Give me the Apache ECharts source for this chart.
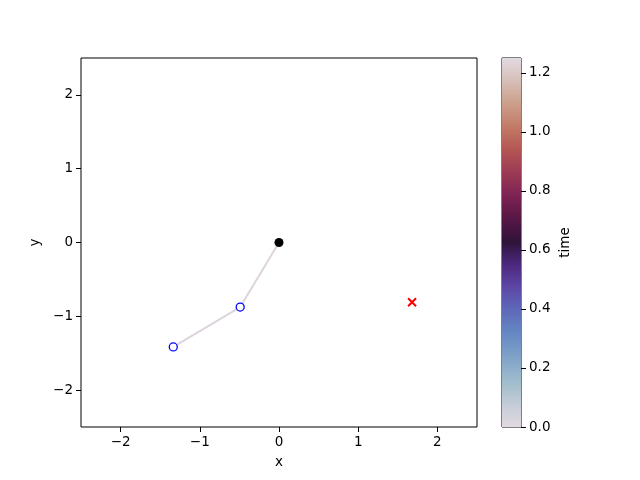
<!DOCTYPE html>
<html><head><meta charset="utf-8">
<script src="https://cdn.jsdelivr.net/npm/echarts@6/dist/echarts.min.js"></script>
<style>html,body{margin:0;padding:0;background:#fff}#c{width:640px;height:480px}</style>
</head><body><div id="c"></div>
<script>
const trajectory = [[0, 0], [-0.49, -0.875], [-1.335, -1.415]];
const startPoint = [[0, 0]];
const visitedPoints = [[-0.49, -0.875], [-1.335, -1.415]];
const targetPoint = [[1.68, -0.81]];
const axisTicks = [-2, -1, 0, 1, 2];
const timeTicks = [0, 0.2, 0.4, 0.6, 0.8, 1.0, 1.2];
const timeMax = 1.25;
const twilightStops = [
  [0.0, '#e2d9e2'], [0.0625, '#c3ccd6'], [0.125, '#9fbbcc'], [0.1875, '#80a3c7'],
  [0.25, '#668ac3'], [0.3125, '#5f6bba'], [0.375, '#5d48a8'], [0.4375, '#4e2a80'],
  [0.5, '#2f133b'], [0.5625, '#551745'], [0.625, '#7d2253'], [0.6875, '#9b3a54'],
  [0.75, '#b35553'], [0.8125, '#c27a66'], [0.875, '#cb9e8a'], [0.9375, '#d6bfb8'],
  [1.0, '#e2d9e2']
];

const fmt = v => String(v).replace('-', '\u2212');
const font = {fontFamily: 'DejaVu Sans', fontSize: 13.5, color: '#000'};
const crossPath = 'path://M0,0L10,10M10,0L0,10';

const chart = echarts.init(document.getElementById('c'), null, {renderer: 'canvas'});
chart.setOption({
  animation: false,
  backgroundColor: '#fff',
  grid: [
    {left: 81, top: 58, width: 396, height: 369, show: true, borderColor: '#000', borderWidth: 1, backgroundColor: 'transparent'},
    {left: 502, top: 58, width: 19, height: 369, show: true, borderColor: '#000', borderWidth: 1, backgroundColor: 'transparent'}
  ],
  xAxis: [
    {gridIndex: 0, type: 'value', position: 'bottom', min: -2.5, max: 2.5, name: 'x', nameLocation: 'middle', nameGap: 28,
     nameTextStyle: font, axisLine: {show: false, onZero: false}, splitLine: {show: false},
     axisTick: {show: true, length: 5, lineStyle: {color: '#000'}, customValues: axisTicks},
     axisLabel: Object.assign({margin: 8, formatter: fmt, customValues: axisTicks}, font)},
    {gridIndex: 1, type: 'category', data: ['c'], show: false, boundaryGap: false}
  ],
  yAxis: [
    {gridIndex: 0, type: 'value', position: 'left', min: -2.5, max: 2.5, name: 'y', nameLocation: 'middle', nameGap: 38,
     nameTextStyle: font, axisLine: {show: false, onZero: false}, splitLine: {show: false},
     axisTick: {show: true, length: 5, lineStyle: {color: '#000'}, customValues: axisTicks},
     axisLabel: Object.assign({margin: 8, formatter: fmt, customValues: axisTicks}, font)},
    {gridIndex: 1, type: 'value', position: 'right', min: 0, max: timeMax, name: 'time', nameLocation: 'middle',
     nameGap: 37, nameRotate: 90, nameTextStyle: font, axisLine: {show: false, onZero: false}, splitLine: {show: false},
     axisTick: {show: true, length: 5, lineStyle: {color: '#000'}, customValues: timeTicks},
     axisLabel: Object.assign({margin: 8, formatter: v => v.toFixed(1), customValues: timeTicks}, font)}
  ],
  series: [
    {type: 'bar', xAxisIndex: 1, yAxisIndex: 1, data: [timeMax], barWidth: '100%', silent: true,
     itemStyle: {color: {type: 'linear', x: 0, y: 1, x2: 0, y2: 0,
       colorStops: twilightStops.map(s => ({offset: s[0], color: s[1]}))}}},
    {type: 'line', data: trajectory, showSymbol: false, symbol: 'none',
     lineStyle: {color: '#ddd4de', width: 2}, z: 2},
    {type: 'scatter', data: visitedPoints, symbol: 'circle', symbolSize: 8,
     itemStyle: {color: '#fff', borderColor: '#0000ff', borderWidth: 1.3, opacity: 1}, z: 3},
    {type: 'scatter', data: startPoint, symbol: 'circle', symbolSize: 9,
     itemStyle: {color: '#000', opacity: 1}, z: 3},
    {type: 'scatter', data: targetPoint, symbol: crossPath, symbolSize: 8,
     itemStyle: {color: 'none', borderColor: '#ff0000', borderWidth: 2, opacity: 1}, z: 3}
  ]
});
</script></body></html>
